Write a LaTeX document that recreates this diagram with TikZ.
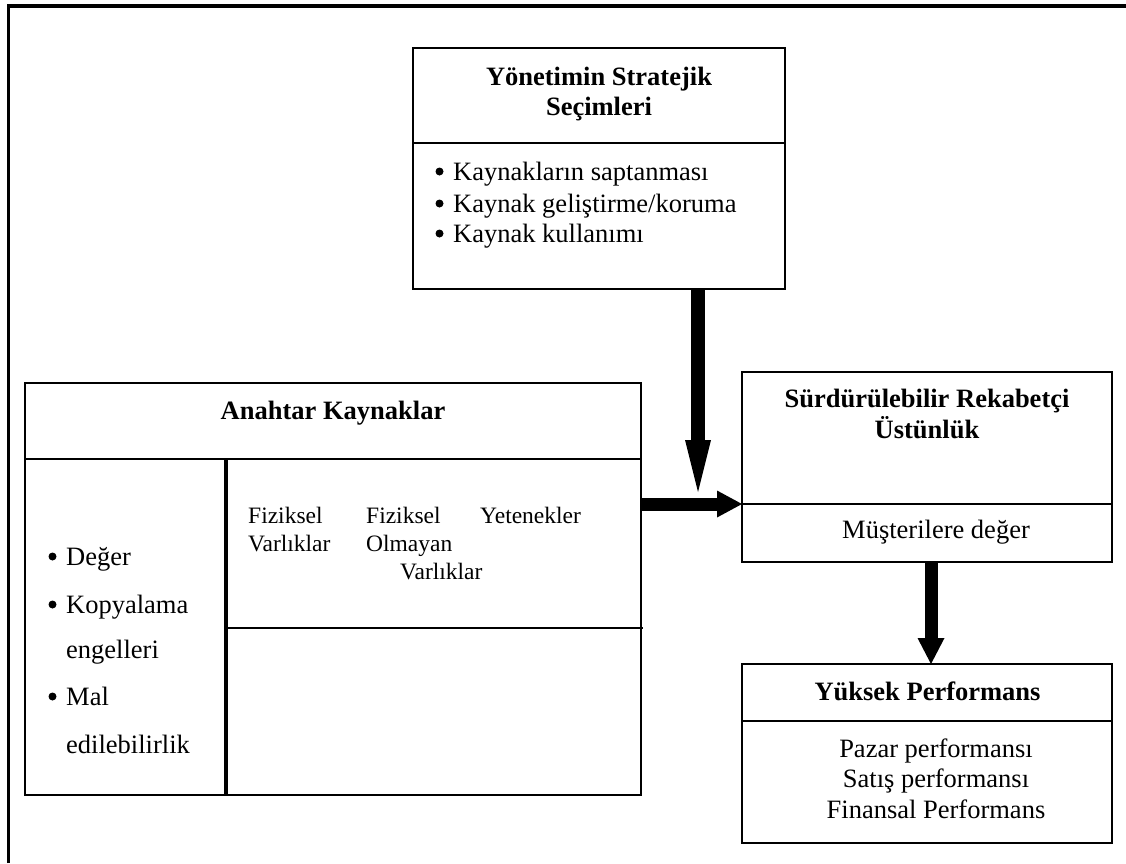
\documentclass[tikz,border=0pt]{standalone}
\usepackage{fontspec}
\setmainfont{Liberation Serif}
\usetikzlibrary{arrows.meta,calc}
\begin{document}
\begin{tikzpicture}[x=1pt,y=-1pt,
  box/.style={draw, line width=2.3pt, rectangle, inner sep=0pt, outer sep=0pt, anchor=north west},
  ttl/.style={font=\fontsize{26.5}{31}\selectfont\bfseries, inner sep=0pt, anchor=base},
  txt/.style={font=\fontsize{26.5}{31}\selectfont, inner sep=0pt, anchor=base west},
  ctr/.style={txt, anchor=base},
  sml/.style={font=\fontsize{23.5}{28}\selectfont, inner sep=0pt, anchor=base west},
  fat/.style={line width=#1, -{Triangle[length=52pt,width=26pt,line width=0pt]}},
  fatshort/.style={line width=#1, -{Triangle[length=25pt,width=27pt,line width=0pt]}}
]
\useasboundingbox (0,0) rectangle (1126,863);
% list bullet drawn 13.5pt left of an item's text, 8.5pt above its baseline
\def\itemdot#1{\fill ($(#1.base west)+(-13.5,-8.5)$) circle (4pt);}

% open outer frame
\draw[line width=3.8pt] (8.5,863) -- (8.5,6) -- (1126,6);

% strategic choices of management
\node[box, minimum width=372pt, minimum height=95pt] (ysh) at (413,48) {};
\node[box, minimum width=372pt, minimum height=146pt] (ysb) at (413,143) {};
\node[ttl] (ys1) at (599,85) {Yönetimin Stratejik};
\node[ttl] (ys2) at (599,115) {Seçimleri};
\node[txt] (ysa) at (453,180) {Kaynakların saptanması};
\node[txt] (ysc) at (453,212) {Kaynak geliştirme/koruma};
\node[txt] (ysd) at (453,242) {Kaynak kullanımı};
\itemdot{ysa}\itemdot{ysc}\itemdot{ysd}

% key resources
\node[box, minimum width=616pt, minimum height=76pt] (akh) at (25,383) {};
\node[box, minimum width=616pt, minimum height=336pt] (akb) at (25,459) {};
\draw[line width=4pt] (226,459) -- (226,795);
\draw[line width=1.5pt] (226,628) -- (643,628);
\node[ttl] (ak1) at (333,419) {Anahtar Kaynaklar};
\node[txt] (akl1) at (66,565) {Değer};
\node[txt] (akl2) at (66,613) {Kopyalama};
\node[txt] (akl3) at (66,658) {engelleri};
\node[txt] (akl4) at (66,705) {Mal};
\node[txt] (akl5) at (66,753) {edilebilirlik};
\itemdot{akl1}\itemdot{akl2}\itemdot{akl4}
\node[sml] (fv1) at (248,523) {Fiziksel};
\node[sml] (fv2) at (248,551) {Varlıklar};
\node[sml] (fo1) at (366,523) {Fiziksel};
\node[sml] (fo2) at (366,551) {Olmayan};
\node[sml] (fo3) at (400,579) {Varlıklar};
\node[sml] (yt1) at (480,523) {Yetenekler};

% sustainable competitive advantage
\node[box, minimum width=370pt, minimum height=132pt] (sh) at (742,372) {};
\node[box, minimum width=370pt, minimum height=58pt] (sb) at (742,504) {};
\node[ttl] (sr1) at (927,407) {Sürdürülebilir Rekabetçi};
\node[ttl] (sr2) at (927,438) {Üstünlük};
\node[ctr] (sr3) at (936,538) {Müşterilere değer};

% high performance
\node[box, minimum width=370pt, minimum height=57pt] (yh) at (742,664) {};
\node[box, minimum width=370pt, minimum height=122pt] (yb) at (742,721) {};
\node[ttl] (yp1) at (927.5,700) {Yüksek Performans};
\node[ctr] (yp2) at (936,757) {Pazar performansı};
\node[ctr] (yp3) at (936,787) {Satış performansı};
\node[ctr] (yp4) at (936,818) {Finansal Performans};

% connectors
\coordinate (dtip) at (698,492);
\coordinate (hrow) at (0,504);
\coordinate (vcol) at (931,0);
\draw[fat=14pt] (ysb.south -| dtip) -- (dtip);
\draw[fatshort=13pt] (akb.east |- hrow) -- (sh.west |- hrow);
\draw[line width=13pt, -{Triangle[length=26pt,width=27pt,line width=0pt]}] (sb.south -| vcol) -- (yh.north -| vcol);
\end{tikzpicture}
\end{document}
